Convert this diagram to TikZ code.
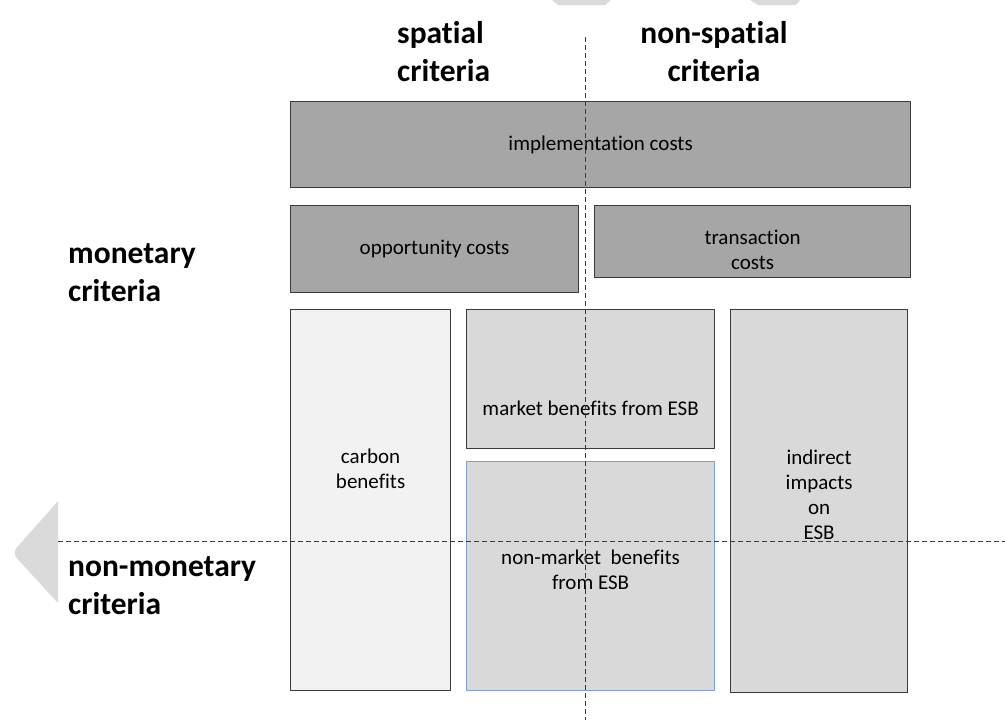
\documentclass[tikz,border=0pt]{standalone}
\usepackage{fontspec}
\setmainfont{Carlito}[Ligatures=CommonOff]
\usepackage{xcolor}
\definecolor{costgray}{HTML}{A6A6A6}
\definecolor{carbongray}{HTML}{F2F2F2}
\definecolor{esbgray}{HTML}{D9D9D9}
\definecolor{edgegray}{HTML}{3A3A3A}
\definecolor{edgeblue}{HTML}{7F9FCF}
\definecolor{shadegray}{HTML}{DADADA}

\begin{document}
\begin{tikzpicture}[line cap=round,line join=round,x=1pt,y=-1pt,
    box/.style={draw=edgegray,line width=1.2pt,inner sep=0pt,anchor=north west},
    boxtext/.style={font=\fontsize{21}{25}\selectfont,align=center,inner sep=0pt},
    headtext/.style={font=\fontsize{31.5}{38}\selectfont\bfseries,inner sep=0pt},
    divider/.style={color=edgegray,line width=1pt,line cap=butt,dash pattern=on 5pt off 3pt}]
    \useasboundingbox (0,0) rectangle (1005,720);
    % grey marks at the edges
    \fill[color=shadegray] (58,501) [rounded corners=7pt] -- (12,553) [sharp corners] -- (58,603) -- cycle;
    \fill[color=shadegray] (552,0) -- (611,0) -- (605,5) -- (558,5) -- cycle;
    \fill[color=shadegray] (750,0) -- (800,0) -- (796,5) -- (758,5) -- cycle;
    % cost boxes
    \node[box,fill=costgray,minimum width=620,minimum height=86] (impl) at (290,101) {};
    \node[box,fill=costgray,minimum width=288,minimum height=87] (opp) at (290,205) {};
    \node[box,fill=costgray,minimum width=316,minimum height=72] (trans) at (594,205) {};
    % benefit boxes
    \node[box,fill=carbongray,minimum width=160,minimum height=381] (carbon) at (290,309) {};
    \node[box,fill=esbgray,minimum width=248,minimum height=139] (market) at (466,309) {};
    \node[box,fill=esbgray,draw=edgeblue,minimum width=248,minimum height=229] (nonmarket) at (466,461) {};
    \node[box,fill=esbgray,minimum width=177,minimum height=383] (indirect) at (730,309) {};
    % box labels
    \node[boxtext] (impltext) at (impl.center) {implementation costs};
    \node[boxtext] (opptext) at (opp.center) {opportunity costs};
    \node[boxtext] (transtext) at ([yshift=-8pt]trans.center) {transaction\\costs};
    \node[boxtext] (carbontext) at ([yshift=31pt]carbon.center) {carbon\\benefits};
    \node[boxtext] (markettext) at ([yshift=-29.5pt]market.center) {market benefits from ESB};
    \node[boxtext] (nonmarkettext) at ([yshift=6.5pt]nonmarket.center) {non-market~~benefits\\from ESB};
    \node[boxtext] (indirecttext) at ([yshift=6.5pt]indirect.center) {indirect\\impacts\\on\\ESB};
    % criteria headings
    \node[headtext,anchor=west,align=left] (spatial) at (397,52) {spatial\\criteria};
    \node[headtext,align=center] (nonspatial) at (714,52) {non-spatial\\criteria};
    \node[headtext,anchor=west,align=left] (monetary) at (68,273) {monetary\\criteria};
    \node[headtext,anchor=west,align=left] (nonmonetary) at (68,585.5) {non-monetary\\criteria};
    % dividing lines
    \coordinate (vtop) at (585,37);
    \coordinate (vbot) at (585,720);
    \coordinate (hleft) at (58,541);
    \coordinate (hright) at (1005,541);
    \draw[divider] (vtop) -- (vbot);
    \draw[divider] (hleft) -- (hright);
\end{tikzpicture}
\end{document}
